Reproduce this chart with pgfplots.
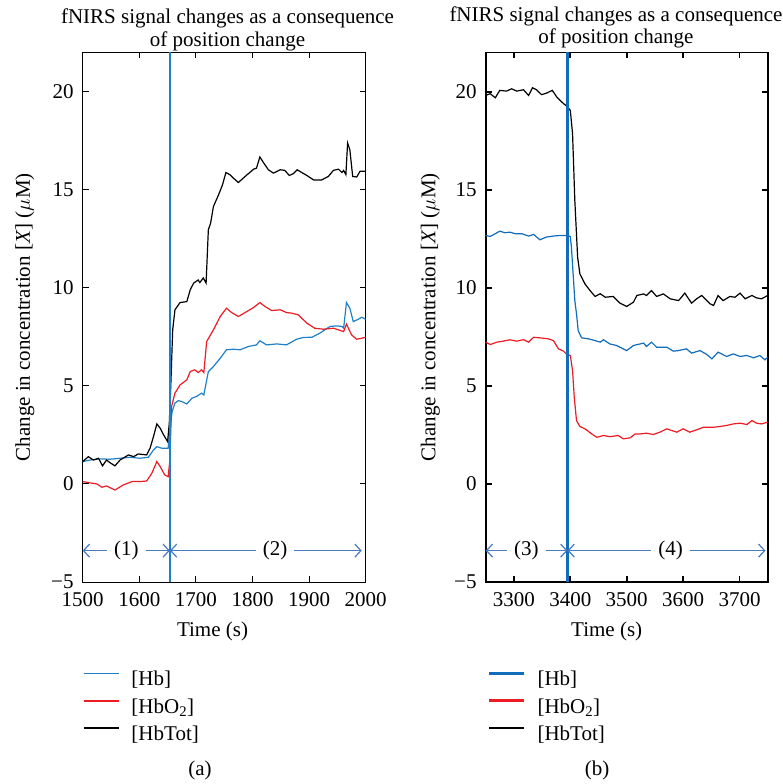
\documentclass[border=0pt]{standalone}
\usepackage{fontspec}
\setmainfont{Liberation Serif}
\usepackage{pgfplots}
\pgfplotsset{compat=1.18}
\usetikzlibrary{arrows.meta}

\definecolor{hbblue}{RGB}{30,128,200}
\definecolor{hbblueb}{RGB}{18,108,188}
\definecolor{hbred}{RGB}{236,28,36}
\definecolor{arrowblue}{RGB}{72,122,192}

\newcommand{\fs}{\fontsize{21}{25}\selectfont}

\tikzset{
  barb/.style={arrowblue, line width=1.2pt,
    {Straight Barb[length=6pt,width=13pt]}-{Straight Barb[length=6pt,width=13pt]}},
  gap/.style={fill=white, inner xsep=7pt, inner ysep=1pt, font=\fs},
}

\pgfplotsset{
  fnirs/.style={
    scale only axis, height=529.5pt,
    ymin=-5, ymax=22, ytick={-5,0,...,20}, yticklabels={−5,0,5,10,15,20},
    tick align=inside, major tick length=6pt,
    /pgf/number format/assume math mode=true,
    /pgf/number format/set thousands separator={},
    ticklabel style={font=\fs, inner sep=1pt},
    yticklabel style={xshift=-8pt},
    xticklabel style={yshift=-9pt},
    label style={font=\fs},
    title style={font=\fontsize{21}{22.5}\selectfont, align=center, anchor=center},
    xlabel={Time (s)},
    ylabel={Change in concentration [\textit{X}] ($\mu$M)},
    legend cell align=left,
    legend style={draw=none, fill=none, inner sep=0pt, outer sep=0pt, font=\fs,
      anchor=north west, row sep=6.3pt,
      nodes={inner sep=0pt, text height=16pt, text depth=5pt},
      /tikz/every odd column/.append style={column sep=12pt}},
  },
}

\begin{document}
\begin{tikzpicture}
\useasboundingbox (0pt,0pt) rectangle (782pt,784pt);

% (a)
\begin{axis}[fnirs, at={(82.7pt,202pt)}, anchor=south west, width=283pt,
  xmin=1500, xmax=2000, xtick={1500,1600,...,2000},
  axis line style={line width=0.9pt}, every tick/.style={black, line width=0.9pt},
  title={fNIRS signal changes as a consequence\\of position change},
  title style={at={(axis description cs:0.5117,1.031)}},
  xlabel style={at={(axis description cs:0.4587,-0.0925)}, anchor=center},
  ylabel style={at={(axis description cs:-0.204,0.5)}, anchor=center},
  legend style={at={(axis description cs:0.001,-0.1658)}},
  legend image code/.code={\draw[#1,line width=1.5pt] (0pt,6.8pt) -- (35pt,6.8pt);},
]
\addplot[hbblue, line width=1.2pt] coordinates {
(1500,1.14)(1513,1.22)(1531,1.28)(1548,1.26)(1566,1.31)(1584,1.36)(1601,1.31)
(1616,1.36)(1625,1.73)(1631,1.9)(1640,1.82)(1651,1.82)(1654,2.76)(1658,3.69)
(1663,4.12)(1669,4.25)(1675,4.2)(1684,4.08)(1693,4.37)(1701,4.46)(1710,4.63)
(1714,4.54)(1722,5.73)(1731,5.99)(1743,6.41)(1754,6.84)(1766,6.87)(1778,6.84)
(1793,7.01)(1807,7.09)(1813,7.3)(1825,7.09)(1843,7.14)(1860,7.09)(1878,7.38)
(1890,7.47)(1905,7.48)(1919,7.69)(1937,8.03)(1949,8.06)(1958,8.03)(1961,7.94)
(1966,9.25)(1972,8.96)(1978,8.28)(1987,8.4)(1993,8.5)(2000,8.4)
};
\addlegendentry{{[}Hb{]}}
\addplot[hbred, line width=1.2pt] coordinates {
(1500,0.12)(1510,0.07)(1525,0)(1534,-0.17)(1542,-0.1)(1557,-0.31)(1572,-0.05)
(1587,0.12)(1601,0.12)(1613,0.15)(1622,0.54)(1631,1.14)(1637,0.88)(1645,0.46)
(1651,0.37)(1654,1.22)(1657,3.95)(1663,4.63)(1672,5.05)(1684,5.31)(1690,5.73)
(1698,5.82)(1704,5.68)(1710,5.82)(1714,5.68)(1719,7.26)(1731,7.86)(1743,8.54)
(1754,8.96)(1763,8.74)(1775,8.54)(1790,8.79)(1802,9.0)(1813,9.25)(1822,9.05)
(1834,8.84)(1849,8.88)(1860,8.74)(1869,8.71)(1881,8.62)(1896,8.2)(1910,7.94)
(1925,7.89)(1943,7.94)(1961,7.77)(1966,8.15)(1975,7.6)(1984,7.38)(1993,7.43)
(2000,7.48)
};
\addlegendentry{{[}HbO\textsubscript{2}{]}}
\addplot[black, line width=1.2pt] coordinates {
(1500,1.14)(1510,1.39)(1519,1.22)(1528,1.31)(1535,0.92)(1542,1.22)(1548,1.09)
(1557,0.92)(1566,1.22)(1581,1.48)(1590,1.39)(1598,1.53)(1613,1.48)(1619,1.82)
(1625,2.41)(1631,3.06)(1637,2.84)(1643,2.5)(1650,2.16)(1653,3.1)(1656,5.3)
(1659,7.86)(1663,8.88)(1672,9.25)(1684,9.3)(1690,9.9)(1696,10.24)(1704,10.4)
(1707,10.27)(1713,10.5)(1718,10.24)(1722,12.96)(1726,13.3)(1731,14.15)
(1740,14.74)(1747,15.25)(1753,15.88)(1760,15.77)(1766,15.6)(1775,15.37)
(1787,15.68)(1802,16.05)(1807,16.1)(1813,16.67)(1820,16.36)(1828,16.02)
(1837,15.85)(1849,16.02)(1857,15.99)(1865,15.73)(1872,15.82)(1879,16.02)
(1887,15.88)(1896,15.73)(1908,15.5)(1922,15.5)(1934,15.68)(1943,15.99)
(1952,16.05)(1958,15.88)(1961,15.99)(1965,15.77)(1968,17.38)(1972,17.04)
(1977,15.68)(1984,15.65)(1990,15.94)(2000,15.94)
};
\addlegendentry{{[}HbTot{]}}
\addplot[hbblue, line width=1.6pt, forget plot] coordinates {(1654,-5)(1654,22)};
\draw[barb] (axis cs:1500,-3.4) -- (axis cs:1654,-3.4);
\draw[barb] (axis cs:1654,-3.4) -- (axis cs:1993,-3.4);
\node[gap] at (axis cs:1577,-3.4) {(1)};
\node[gap] at (axis cs:1840,-3.4) {(2)};
\end{axis}

% (b)
\begin{axis}[fnirs, at={(485.7pt,202pt)}, anchor=south west, width=282pt,
  xmin=3250, xmax=3750, xtick={3300,3400,...,3700},
  axis line style={line width=1.8pt}, every tick/.style={black, line width=1.8pt},
  title={fNIRS signal changes as a consequence\\of position change},
  title style={at={(axis description cs:0.462,1.036)}},
  xlabel style={at={(axis description cs:0.429,-0.0925)}, anchor=center},
  ylabel style={at={(axis description cs:-0.1965,0.5)}, anchor=center},
  legend style={at={(axis description cs:0.008,-0.1658)}},
  legend image code/.code={\draw[#1,line width=2.6pt] (0pt,6.8pt) -- (35pt,6.8pt);},
]
\addplot[hbblueb, line width=1.2pt] coordinates {
(3250,12.67)(3258,12.62)(3267,12.76)(3275,12.89)(3284,12.81)(3293,12.84)
(3302,12.76)(3314,12.76)(3326,12.64)(3335,12.72)(3346,12.45)(3358,12.59)
(3370,12.64)(3382,12.67)(3394,12.67)(3400,12.62)(3402,12.07)(3405,10.71)
(3408,9.35)(3411,8.67)(3414,7.82)(3420,7.45)(3432,7.4)(3444,7.31)(3453,7.23)
(3459,7.35)(3470,7.14)(3482,7.06)(3500,6.8)(3512,7.06)(3530,7.18)(3535,7.01)
(3544,7.23)(3553,6.97)(3571,6.97)(3583,6.77)(3592,6.8)(3606,6.89)(3615,6.67)
(3630,6.8)(3642,6.6)(3651,6.38)(3662,6.72)(3677,6.5)(3689,6.63)(3701,6.5)
(3713,6.55)(3725,6.43)(3736,6.55)(3745,6.33)(3750,6.46)
};
\addlegendentry{{[}Hb{]}}
\addplot[hbred, line width=1.2pt] coordinates {
(3250,7.23)(3258,7.11)(3270,7.23)(3281,7.28)(3293,7.35)(3305,7.28)(3317,7.36)
(3326,7.23)(3335,7.48)(3346,7.45)(3361,7.4)(3370,7.31)(3379,6.89)(3388,6.77)
(3394,6.6)(3400,6.55)(3404,5.78)(3407,4.42)(3411,3.23)(3417,2.93)(3426,2.81)
(3438,2.55)(3447,2.38)(3459,2.47)(3470,2.41)(3485,2.47)(3494,2.3)(3506,2.35)
(3515,2.55)(3524,2.55)(3535,2.59)(3547,2.52)(3559,2.64)(3571,2.81)(3589,2.64)
(3600,2.81)(3612,2.64)(3624,2.76)(3636,2.89)(3654,2.89)(3665,2.93)(3677,2.98)
(3689,3.06)(3701,3.1)(3713,3.03)(3722,3.23)(3730,3.1)(3739,3.06)(3750,3.15)
};
\addlegendentry{{[}HbO\textsubscript{2}{]}}
\addplot[black, line width=1.2pt] coordinates {
(3250,19.81)(3258,19.9)(3267,19.69)(3275,20.07)(3287,20.03)(3296,20.15)
(3305,20.03)(3317,20.1)(3326,19.81)(3333,20.2)(3340,20.1)(3349,19.85)
(3358,19.93)(3368,20.07)(3376,19.73)(3385,19.47)(3394,19.25)(3400,19.05)
(3404,17.86)(3408,14.46)(3413,11.56)(3417,10.71)(3426,10.2)(3435,9.86)
(3444,9.56)(3453,9.7)(3462,9.52)(3476,9.56)(3488,9.22)(3500,9.05)(3512,9.27)
(3518,9.61)(3530,9.69)(3535,9.61)(3544,9.86)(3553,9.56)(3565,9.69)(3577,9.44)
(3592,9.35)(3603,9.73)(3615,9.22)(3624,9.44)(3633,9.61)(3639,9.44)(3648,9.18)
(3654,9.1)(3662,9.61)(3671,9.35)(3683,9.56)(3692,9.52)(3701,9.73)(3710,9.44)
(3722,9.61)(3730,9.49)(3739,9.44)(3750,9.61)
};
\addlegendentry{{[}HbTot{]}}
\addplot[hbblueb, line width=2.4pt, forget plot] coordinates {(3395,-5)(3395,22)};
\draw[barb] (axis cs:3250,-3.4) -- (axis cs:3395,-3.4);
\draw[barb] (axis cs:3395,-3.4) -- (axis cs:3746,-3.4);
\node[gap] at (axis cs:3322,-3.4) {(3)};
\node[gap] at (axis cs:3578,-3.4) {(4)};
\end{axis}

\node[font=\fs] at (200pt,14pt) {(a)};
\node[font=\fs] at (597pt,14pt) {(b)};
\end{tikzpicture}
\end{document}
